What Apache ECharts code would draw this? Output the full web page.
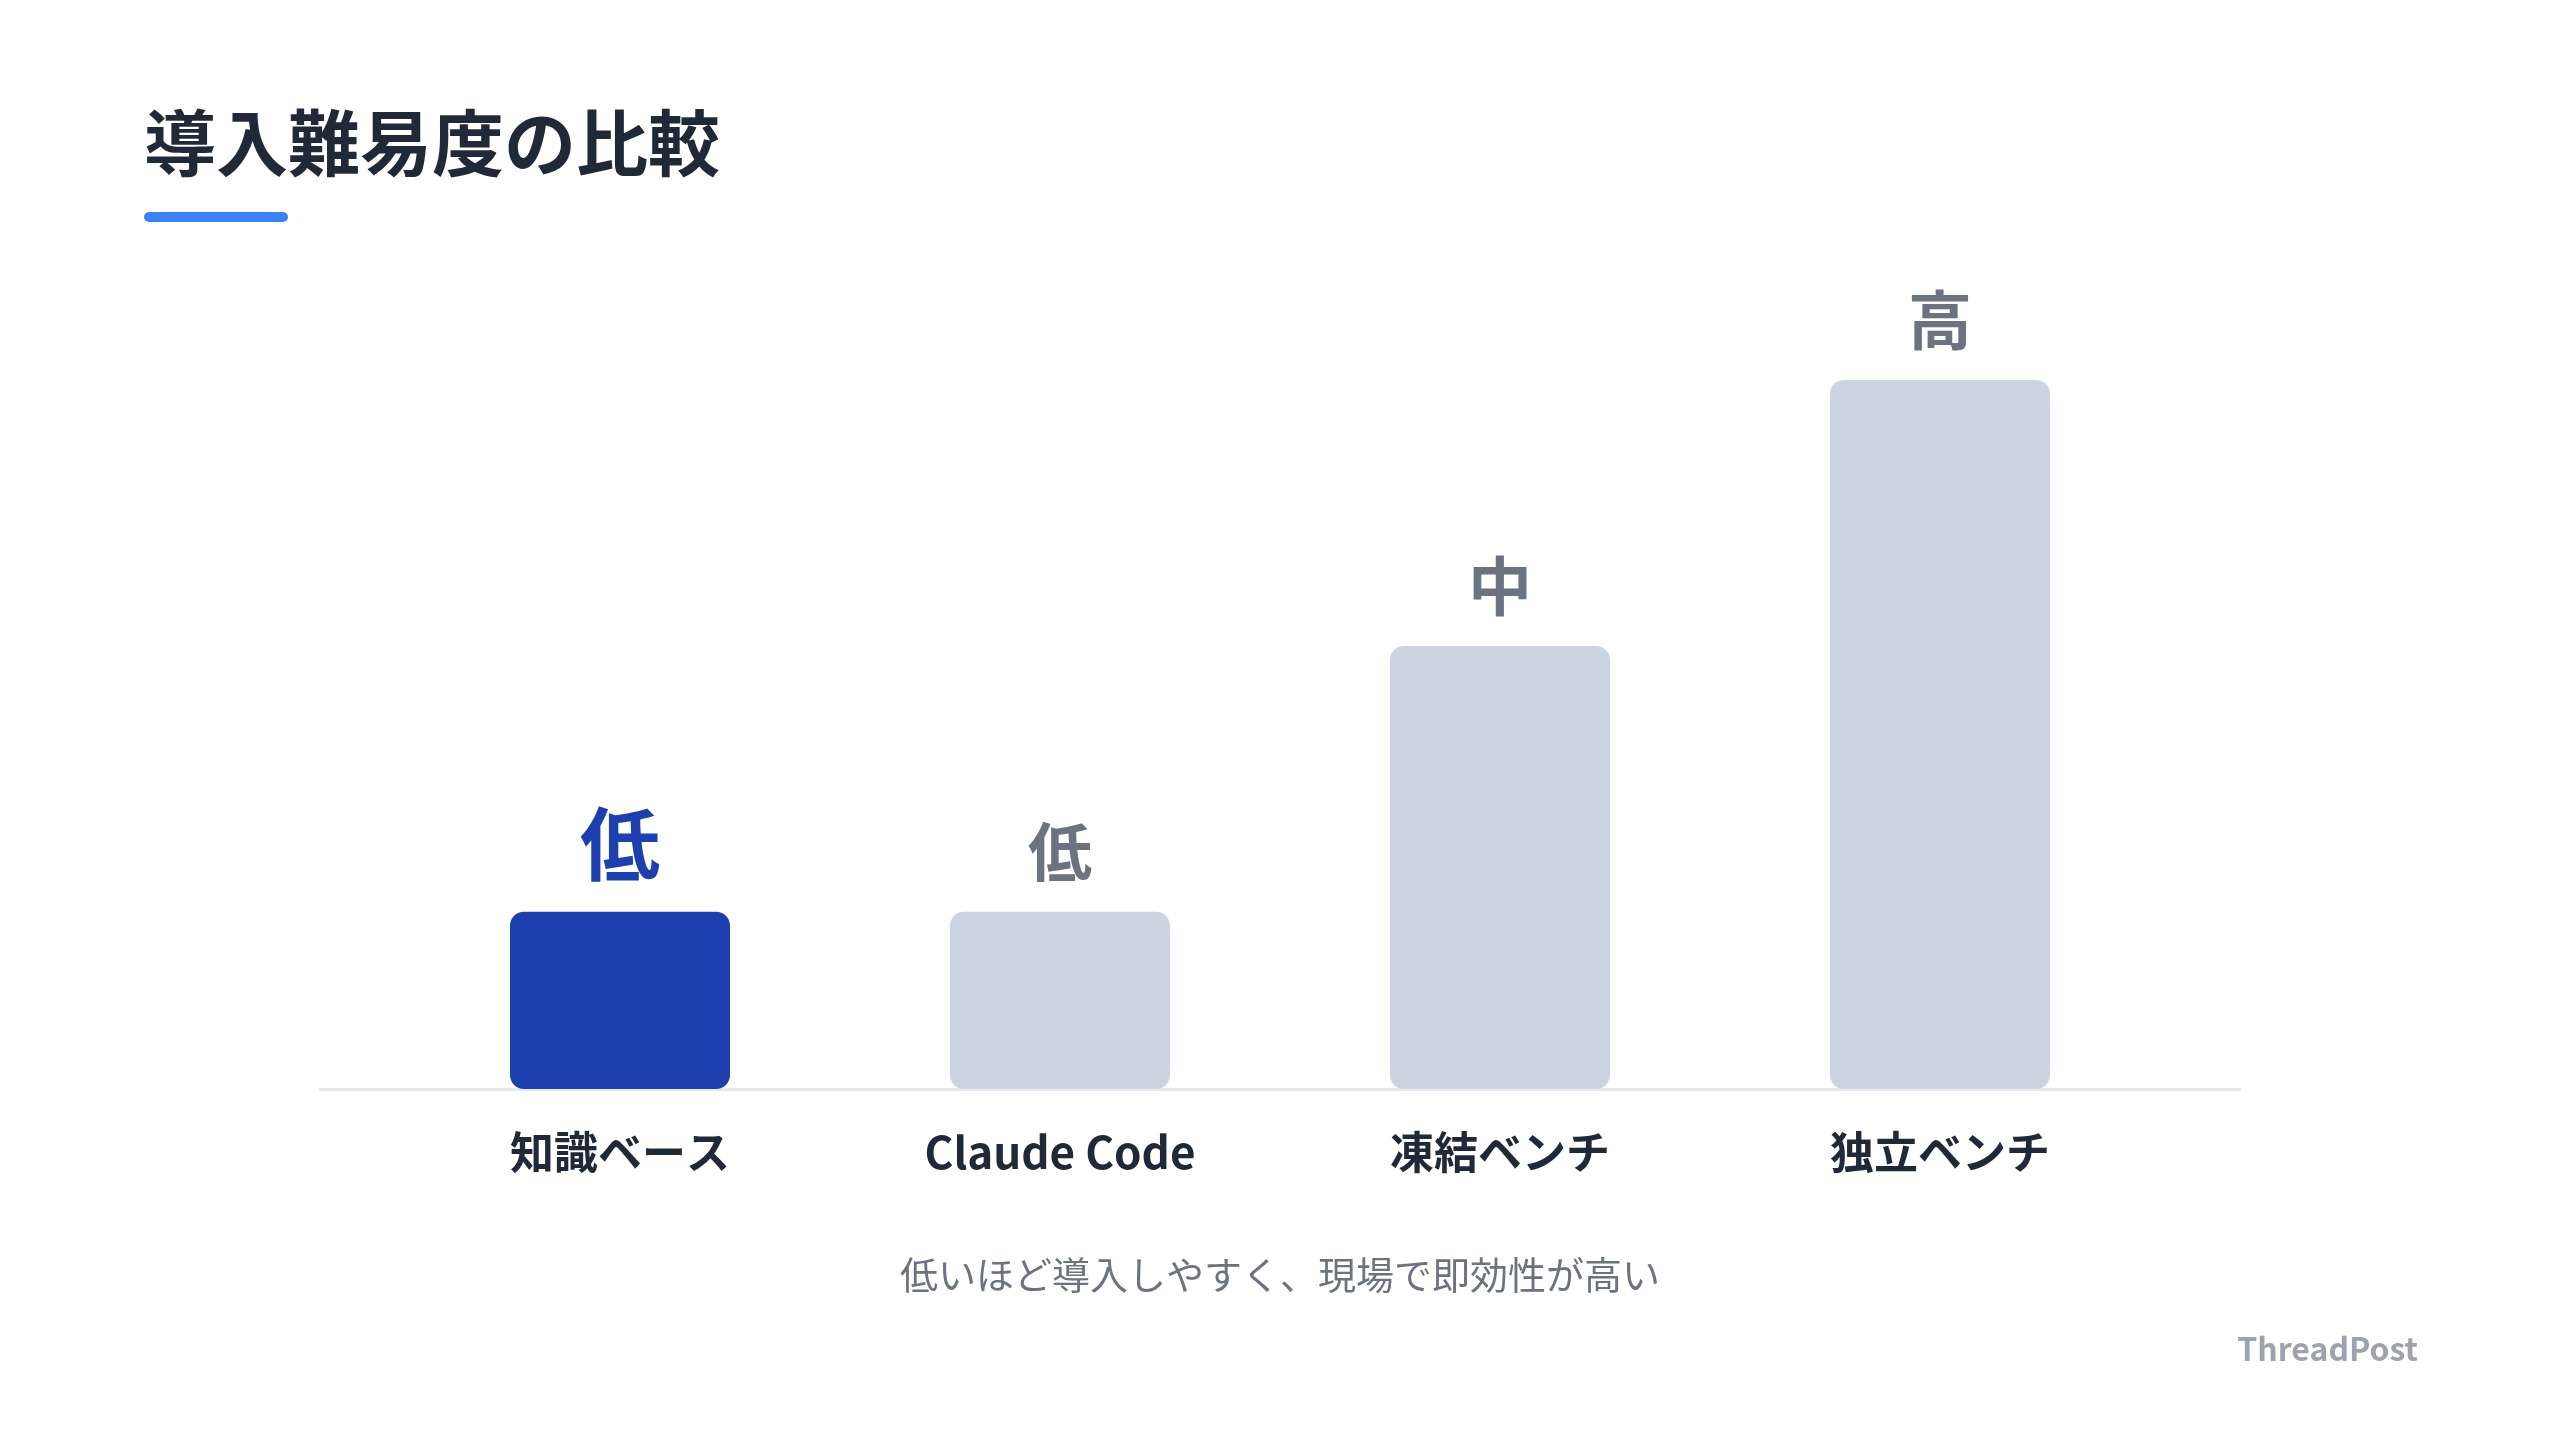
<!DOCTYPE html>
<html>
<head>
<meta charset="utf-8">
<style>
html,body{margin:0;padding:0;background:#ffffff;}
#chart{width:2560px;height:1440px;}
</style>
<script src="https://cdn.jsdelivr.net/npm/echarts@6/dist/echarts.min.js"></script>
</head>
<body>
<div id="chart"></div>
<script>
// ---- data ----
const titleText = '導入難易度の比較';
const noteText = '低いほど導入しやすく、現場で即効性が高い';
const brandText = 'ThreadPost';
const categories = ['知識ベース', 'Claude Code', '凍結ベンチ', '独立ベンチ'];
const difficultyValues = [1, 1, 2.5, 4];
const difficultyLabels = ['低', '低', '中', '高'];
const highlighted = [true, false, false, false];

const FONT = '"Noto Sans CJK JP", "Noto Sans", sans-serif';
const chart = echarts.init(document.getElementById('chart'), null, {renderer: 'canvas'});

const barData = difficultyValues.map((v, i) => ({
  value: v,
  itemStyle: {color: highlighted[i] ? '#1e40af' : '#cbd5e1', borderRadius: 14},
  label: {
    show: true,
    position: 'top',
    distance: 28,
    formatter: difficultyLabels[i],
    fontFamily: FONT,
    fontWeight: 'bold',
    fontSize: highlighted[i] ? 80 : 64,
    color: highlighted[i] ? '#1e40af' : '#6b7280'
  }
}));

chart.setOption({
  backgroundColor: '#ffffff',
  animation: false,
  title: [
    {text: titleText, left: 139, top: 102,
     textStyle: {fontFamily: FONT, fontWeight: 'bold', fontSize: 72, color: '#1f2937'}},
    {text: noteText, left: 'center', top: 1251,
     textStyle: {fontFamily: FONT, fontWeight: 'normal', fontSize: 38, color: '#6b7280'}},
    {text: brandText, right: 137, top: 1328,
     textStyle: {fontFamily: FONT, fontWeight: 'bold', fontSize: 32, color: '#9ca3af'}}
  ],
  graphic: [
    {type: 'rect', left: 144, top: 212, shape: {width: 144, height: 10, r: 5}, style: {fill: '#3b82f6'}}
  ],
  grid: [
    {left: 400, right: 400, top: 380, bottom: 351},
    {left: 320, right: 320, top: 380, bottom: 351}
  ],
  xAxis: [
    {type: 'category', gridIndex: 0, data: categories,
     axisLine: {show: false}, axisTick: {show: false},
     axisLabel: {margin: 41, fontFamily: FONT, fontWeight: 'bold', fontSize: 44, color: '#1f2937'}},
    {type: 'value', gridIndex: 1, min: 0, max: 1,
     axisLine: {show: true, lineStyle: {color: '#e5e7eb', width: 3}},
     axisTick: {show: false}, axisLabel: {show: false}, splitLine: {show: false}}
  ],
  yAxis: [
    {type: 'value', gridIndex: 0, min: 0, max: 4, show: false},
    {type: 'value', gridIndex: 1, min: 0, max: 1, show: false}
  ],
  series: [
    {type: 'bar', xAxisIndex: 0, yAxisIndex: 0, barWidth: 220, data: barData, z: 3}
  ]
});
</script>
</body>
</html>
